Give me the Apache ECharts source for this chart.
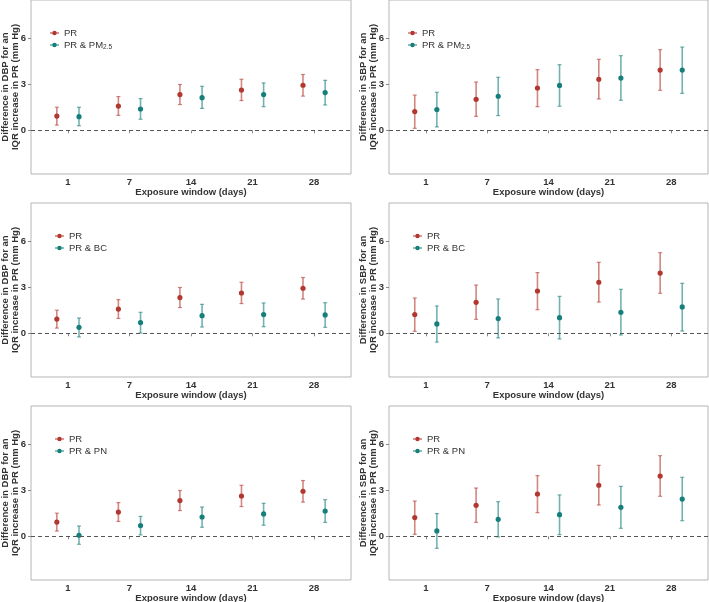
<!DOCTYPE html>
<html>
<head>
<meta charset="utf-8">
<script src="https://cdn.jsdelivr.net/npm/echarts@6/dist/echarts.min.js"></script>
<style>
  html, body { margin: 0; padding: 0; background: #fff; }
  #chart { width: 709px; height: 602px; }
</style>
</head>
<body>
<div id="chart"></div>
<script>
// exposure windows (days) on the x axis
var windowDays = ['1', '7', '14', '21', '28'];
var yTicks = [0, 3, 6];

// DBP, single pollutant model (PR)
var dbpPRMean = [0.93, 1.58, 2.33, 2.63, 2.94];
var dbpPRLow  = [0.34, 0.97, 1.68, 1.94, 2.23];
var dbpPRHigh = [1.51, 2.20, 2.99, 3.33, 3.64];
// SBP, single pollutant model (PR)
var sbpPRMean = [1.22, 2.02, 2.76, 3.33, 3.93];
var sbpPRLow  = [0.13, 0.91, 1.54, 2.04, 2.61];
var sbpPRHigh = [2.30, 3.15, 3.96, 4.63, 5.26];

// two pollutant models
var dbpPMMean = [0.89, 1.39, 2.13, 2.33, 2.46];
var dbpPMLow  = [0.30, 0.72, 1.43, 1.54, 1.65];
var dbpPMHigh = [1.50, 2.07, 2.87, 3.09, 3.26];
var sbpPMMean = [1.35, 2.22, 2.93, 3.41, 3.93];
var sbpPMLow  = [0.22, 0.96, 1.57, 1.96, 2.41];
var sbpPMHigh = [2.48, 3.46, 4.28, 4.87, 5.43];

var dbpBCMean = [0.39, 0.70, 1.15, 1.22, 1.20];
var dbpBCLow  = [-0.24, 0.02, 0.41, 0.43, 0.39];
var dbpBCHigh = [1.00, 1.37, 1.89, 1.98, 2.00];
var sbpBCMean = [0.61, 0.96, 1.02, 1.37, 1.72];
var sbpBCLow  = [-0.57, -0.30, -0.37, -0.11, 0.15];
var sbpBCHigh = [1.78, 2.24, 2.41, 2.87, 3.26];

var dbpPNMean = [0.07, 0.70, 1.26, 1.46, 1.65];
var dbpPNLow  = [-0.52, 0.09, 0.59, 0.72, 0.91];
var dbpPNHigh = [0.67, 1.30, 1.91, 2.15, 2.39];
var sbpPNMean = [0.35, 1.11, 1.41, 1.89, 2.43];
var sbpPNLow  = [-0.78, -0.04, 0.11, 0.52, 1.02];
var sbpPNHigh = [1.48, 2.26, 2.70, 3.26, 3.85];

var redColor = '#b2372f';
var tealColor = '#157f7b';
var font = 'Liberation Sans';

var dbpName = 'Difference in DBP for an\nIQR increase in PR (mm Hg)';
var sbpName = 'Difference in SBP for an\nIQR increase in PR (mm Hg)';

var panels = [
  {yName: dbpName, other: 'PR & PM2.5', pr: [dbpPRMean, dbpPRLow, dbpPRHigh], two: [dbpPMMean, dbpPMLow, dbpPMHigh]},
  {yName: sbpName, other: 'PR & PM2.5', pr: [sbpPRMean, sbpPRLow, sbpPRHigh], two: [sbpPMMean, sbpPMLow, sbpPMHigh]},
  {yName: dbpName, other: 'PR & BC', pr: [dbpPRMean, dbpPRLow, dbpPRHigh], two: [dbpBCMean, dbpBCLow, dbpBCHigh]},
  {yName: sbpName, other: 'PR & BC', pr: [sbpPRMean, sbpPRLow, sbpPRHigh], two: [sbpBCMean, sbpBCLow, sbpBCHigh]},
  {yName: dbpName, other: 'PR & PN', pr: [dbpPRMean, dbpPRLow, dbpPRHigh], two: [dbpPNMean, dbpPNLow, dbpPNHigh]},
  {yName: sbpName, other: 'PR & PN', pr: [sbpPRMean, sbpPRLow, sbpPRHigh], two: [sbpPNMean, sbpPNLow, sbpPNHigh]}
];

var colLeft = [31, 389];
var colWidth = [320, 319];
var rowTop = [0, 203, 406];
var legendLeft = [[50, 408], [55, 413], [55, 413]];

function toData(arr) {
  var out = [];
  for (var i = 0; i < arr[0].length; i++) {
    out.push([i + 1, arr[0][i], arr[1][i], arr[2][i]]);
  }
  return out;
}

// point + error bar, dodged sideways
function makeRender(dodge) {
  return function (params, api) {
    var x = api.value(0) + dodge;
    var mid = api.coord([x, api.value(1)]);
    var lo = api.coord([x, api.value(2)]);
    var hi = api.coord([x, api.value(3)]);
    var color = api.visual('color');
    var cap = 2;
    return {
      type: 'group',
      children: [
        {type: 'line', shape: {x1: mid[0], y1: lo[1], x2: mid[0], y2: hi[1]},
          style: {stroke: color, lineWidth: 1.6, opacity: 0.6}},
        {type: 'line', shape: {x1: mid[0] - cap, y1: lo[1], x2: mid[0] + cap, y2: lo[1]},
          style: {stroke: color, lineWidth: 1.2, opacity: 0.6}},
        {type: 'line', shape: {x1: mid[0] - cap, y1: hi[1], x2: mid[0] + cap, y2: hi[1]},
          style: {stroke: color, lineWidth: 1.2, opacity: 0.6}},
        {type: 'circle', shape: {cx: mid[0], cy: mid[1], r: 2.6},
          style: {fill: color}}
      ]
    };
  };
}

var legendIcon = 'path://M0,2h10v1h-10z M7.5,2.5A2.5,2.5 0 1 1 2.5,2.5A2.5,2.5 0 1 1 7.5,2.5z';

var grids = [], xAxes = [], yAxes = [], legends = [], series = [];

panels.forEach(function (p, i) {
  var row = Math.floor(i / 2), col = i % 2;
  grids.push({
    left: colLeft[col], top: rowTop[row], width: colWidth[col], height: 174,
    outerBoundsMode: 'none', containLabel: false,
    show: true, borderColor: '#b5b5b5', borderWidth: 1, backgroundColor: '#fff'
  });
  xAxes.push({
    gridIndex: i, type: 'value', min: 0.4, max: 5.6,
    name: 'Exposure window (days)', nameLocation: 'middle', nameGap: 13, nameMoveOverlap: false,
    nameTextStyle: {fontFamily: font, fontWeight: 'bold', fontSize: 9.5, color: '#333'},
    axisLine: {show: false},
    splitLine: {show: false},
    axisTick: {show: true, customValues: [1, 2, 3, 4, 5], length: 3, lineStyle: {color: '#888'}},
    axisLabel: {
      customValues: [1, 2, 3, 4, 5], margin: 3,
      fontFamily: font, fontWeight: 'bold', fontSize: 9.5, color: '#333',
      formatter: function (v) { return windowDays[Math.round(v) - 1]; }
    }
  });
  yAxes.push({
    gridIndex: i, type: 'value', min: -2.85, max: 8.5,
    name: p.yName, nameLocation: 'middle', nameGap: 11, nameRotate: 90, nameMoveOverlap: false,
    nameTextStyle: {fontFamily: font, fontWeight: 'bold', fontSize: 9.5, lineHeight: 10, color: '#333'},
    axisLine: {show: false},
    splitLine: {show: false},
    axisTick: {show: true, customValues: yTicks, length: 3, lineStyle: {color: '#888'}},
    axisLabel: {
      customValues: yTicks, margin: 5,
      fontFamily: font, fontWeight: 'bold', fontSize: 9.5, color: '#333'
    }
  });
  legends.push({
    orient: 'vertical', left: legendLeft[row][col], top: rowTop[row] + 28,
    padding: 0, itemWidth: 9, itemHeight: 4.5, itemGap: 2,
    data: [{name: 'PR', icon: legendIcon}, {name: p.other, icon: legendIcon}],
    textStyle: {
      fontFamily: font, fontSize: 9.5, color: '#333',
      rich: {sub: {fontFamily: font, fontSize: 6.5, color: '#333', padding: [5, 0, 0, 0]}}
    },
    formatter: function (name) {
      if (name === 'PR & PM2.5') return 'PR & PM{sub|2.5}';
      return name;
    }
  });
  series.push({
    name: 'PR', type: 'custom', xAxisIndex: i, yAxisIndex: i,
    itemStyle: {color: redColor},
    renderItem: makeRender(-0.18),
    data: toData(p.pr),
    markLine: {
      silent: true, symbol: 'none', label: {show: false},
      lineStyle: {color: '#555', type: [4, 3], width: 1},
      data: [{yAxis: 0}]
    },
    z: 3
  });
  series.push({
    name: p.other, type: 'custom', xAxisIndex: i, yAxisIndex: i,
    itemStyle: {color: tealColor},
    renderItem: makeRender(0.18),
    data: toData(p.two),
    z: 3
  });
});

var dom = document.getElementById('chart');
var myChart = echarts.init(dom, null, {renderer: 'canvas'});
var option = {
  backgroundColor: '#fff',
  animation: false,
  grid: grids,
  xAxis: xAxes,
  yAxis: yAxes,
  legend: legends,
  series: series
};
myChart.setOption(option, true);
</script>
</body>
</html>
